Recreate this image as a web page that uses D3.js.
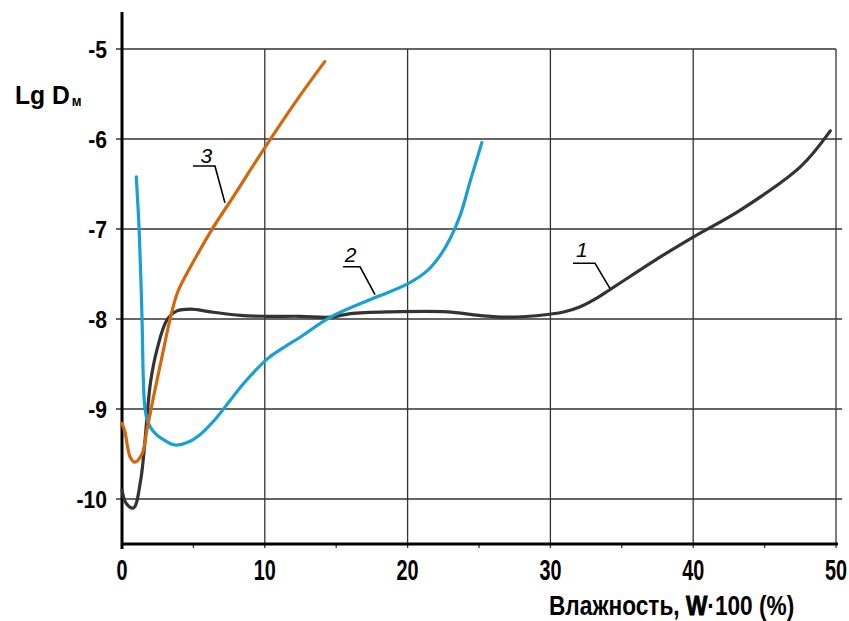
<!DOCTYPE html>
<html>
<head>
<meta charset="utf-8">
<script src="https://cdn.jsdelivr.net/npm/d3@7"></script>
<style>
  html, body { margin: 0; padding: 0; background: #fff; }
  svg { display: block; }
  .lbl { font-family: "Liberation Sans", Arial, sans-serif; font-weight: bold; fill: #000; }
</style>
</head>
<body>
<svg id="chart" width="849" height="621"></svg>
<script>
// ---- Data ----
const xTicks = [0, 10, 20, 30, 40, 50];
const xMinorTicks = [5, 15, 25, 35, 45];
const yTicks = [-5, -6, -7, -8, -9, -10];

const curve1W = [0, 0.3, 0.8, 1.3, 2.0, 2.45, 3.15, 3.85, 4.8, 6.2, 8.3, 10.1, 12.5, 14.6, 16, 18.8, 22.8, 25, 27, 29.8, 31, 32, 33, 34.2, 37.7, 40, 43.3, 47.5, 49.6];
const curve1D = [-9.9, -10.05, -10.1, -9.8, -8.7, -8.34, -8.01, -7.91, -7.89, -7.92, -7.96, -7.97, -7.97, -7.98, -7.94, -7.92, -7.92, -7.96, -7.98, -7.95, -7.92, -7.87, -7.79, -7.67, -7.31, -7.09, -6.79, -6.31, -5.91];

const curve2W = [1.0, 1.2, 1.4, 1.5, 1.6, 1.8, 2.2, 2.7, 3.7, 4.6, 5.5, 6.5, 7.5, 8.5, 10.2, 11.2, 12.5, 14.6, 17.6, 20, 21.4, 22.3, 23.0, 23.7, 24.4, 25.2];
const curve2D = [-6.42, -7.01, -7.98, -8.7, -8.98, -9.14, -9.25, -9.32, -9.4, -9.37, -9.28, -9.12, -8.92, -8.72, -8.44, -8.33, -8.2, -7.98, -7.77, -7.61, -7.46, -7.29, -7.1, -6.84, -6.46, -6.04];

const curve3W = [0, 0.2, 0.56, 0.9, 1.4, 1.75, 2.2, 2.8, 3.4, 3.9, 4.8, 6.4, 7.8, 9.9, 12.5, 14.2];
const curve3D = [-9.16, -9.25, -9.53, -9.59, -9.5, -9.23, -8.87, -8.42, -7.98, -7.7, -7.42, -6.98, -6.64, -6.12, -5.51, -5.14];

const seriesNames = ["1", "2", "3"];
const seriesColors = ["#333333", "#17a0d2", "#d2670c"];
const labelText = [[32.2, -7.31], [16.0, -7.37], [5.9, -6.27]];
const labelLeaders = [
  [[31.58, -7.38], [33.12, -7.38], [34.17, -7.66]],
  [[15.48, -7.42], [16.67, -7.42], [17.72, -7.73]],
  [[4.97, -6.30], [6.51, -6.30], [7.21, -6.71]]
];

// ---- Drawing ----
const svg = d3.select("#chart");
const x = d3.scaleLinear().domain([0, 50]).range([122, 836]);
const y = d3.scaleLinear().domain([-10.5, -5]).range([544, 49]);

const grid = svg.append("g").attr("stroke", "#333").attr("stroke-width", 1.3);
grid.selectAll("line.h").data(yTicks).join("line")
  .attr("x1", x(0) - 6).attr("x2", d => d === -5 ? x(50) : x(50) + 6)
  .attr("y1", d => y(d)).attr("y2", d => y(d));
grid.selectAll("line.v").data(xTicks.slice(1)).join("line")
  .attr("x1", d => x(d)).attr("x2", d => x(d))
  .attr("y1", y(-5)).attr("y2", y(-10.5) + 4);
grid.selectAll("line.m").data(xMinorTicks).join("line")
  .attr("x1", d => x(d)).attr("x2", d => x(d))
  .attr("y1", y(-10.5)).attr("y2", y(-10.5) + 4);

svg.append("line").attr("x1", x(0)).attr("x2", x(0)).attr("y1", 12).attr("y2", y(-10.5) + 5)
  .attr("stroke", "#000").attr("stroke-width", 3);
svg.append("line").attr("x1", x(0) - 1).attr("x2", x(50) + 2).attr("y1", y(-10.5)).attr("y2", y(-10.5))
  .attr("stroke", "#000").attr("stroke-width", 3);

// tick labels
svg.selectAll("text.yt").data(yTicks).join("text").attr("class", "lbl")
  .attr("transform", d => `translate(107,${y(d) + 9}) scale(0.92,1)`)
  .attr("text-anchor", "end").attr("font-size", 23)
  .text(d => d);
svg.selectAll("text.xt").data(xTicks).join("text").attr("class", "lbl")
  .attr("transform", d => `translate(${x(d)},580) scale(0.66,1)`)
  .attr("text-anchor", "middle").attr("font-size", 30)
  .text(d => d);

// axis titles
const yt = svg.append("text").attr("class", "lbl").attr("transform", "translate(15,104) scale(0.95,1)").attr("font-size", 26);
yt.append("tspan").text("Lg D");
yt.append("tspan").attr("font-size", 14).attr("dx", 2).attr("dy", 2).text("м");

const xt = svg.append("text").attr("class", "lbl").attr("transform", "translate(549,615) scale(0.84,1)").attr("font-size", 27);
xt.append("tspan").text("Влажность, ");
xt.append("tspan").attr("font-weight", 900).attr("stroke", "#000").attr("stroke-width", 0.9).text("W");
xt.append("tspan").text("·100 (%)");

// curves
const series = [
  curve1W.map((w, i) => [w, curve1D[i]]),
  curve2W.map((w, i) => [w, curve2D[i]]),
  curve3W.map((w, i) => [w, curve3D[i]])
];
const line = d3.line().x(d => x(d[0])).y(d => y(d[1])).curve(d3.curveCatmullRom.alpha(0.5));
svg.append("g").selectAll("path").data(series).join("path")
  .attr("d", line)
  .attr("fill", "none")
  .attr("stroke", (d, i) => seriesColors[i])
  .attr("stroke-width", 3.2)
  .attr("stroke-linejoin", "round").attr("stroke-linecap", "round");

// labels with leader lines
const leaderLine = d3.line().x(d => x(d[0])).y(d => y(d[1]));
svg.append("g").selectAll("path").data(labelLeaders).join("path")
  .attr("d", leaderLine).attr("fill", "none").attr("stroke", "#000").attr("stroke-width", 1.6);
svg.append("g").selectAll("text").data(labelText).join("text")
  .attr("x", d => x(d[0])).attr("y", d => y(d[1]))
  .attr("text-anchor", "middle")
  .attr("font-family", "'Liberation Sans', Arial, sans-serif")
  .attr("font-style", "italic").attr("font-size", 21)
  .attr("fill", "#000")
  .text((d, i) => seriesNames[i]);
</script>
</body>
</html>
